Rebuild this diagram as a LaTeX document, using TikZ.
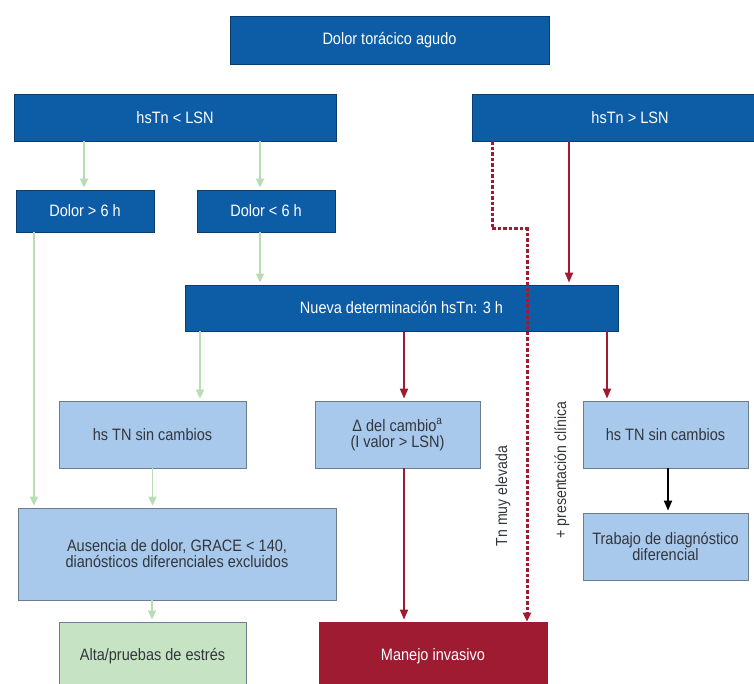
\documentclass[tikz,border=0pt]{standalone}
\usepackage{fontspec}
\setmainfont{Liberation Sans}[FakeStretch=0.88]
\usetikzlibrary{arrows.meta}

\definecolor{darkblue}{RGB}{12,92,166}
\definecolor{darkblueline}{RGB}{10,60,110}
\definecolor{lightblue}{RGB}{168,200,236}
\definecolor{lightgreen}{RGB}{198,228,196}
\definecolor{boxline}{RGB}{110,125,140}
\definecolor{darkred}{RGB}{158,27,50}
\definecolor{greenline}{RGB}{184,221,179}
\definecolor{textgray}{RGB}{50,55,60}

\tikzset{
  boxtext/.style={font=\fontsize{16.5}{16}\selectfont, align=center, inner sep=0pt},
  bluebox/.style={boxtext, draw=darkblueline, fill=darkblue, text=white, line width=0.8pt},
  lightbox/.style={boxtext, draw=boxline, fill=lightblue, text=textgray, line width=0.8pt},
  greenbox/.style={boxtext, draw=boxline, fill=lightgreen, text=textgray, line width=0.8pt},
  redbox/.style={boxtext, draw=darkred, fill=darkred, text=white, line width=0.8pt},
  greenarrow/.style={draw=greenline, line width=1.6pt, -{Triangle[length=9pt,width=8pt]}, shorten >=2pt},
  redarrow/.style={draw=darkred, line width=1.8pt, -{Triangle[length=10pt,width=8pt]}, shorten >=2pt},
  blackarrow/.style={draw=black, line width=1.8pt, -{Triangle[length=10pt,width=8pt]}, shorten >=2pt},
  reddash/.style={draw=darkred, line width=3pt, dash pattern=on 3.5pt off 2pt, -{Triangle[length=9pt,width=8pt]}},
  sidetext/.style={font=\fontsize{16}{16}\selectfont, text=textgray, rotate=90, inner sep=0pt}
}

\begin{document}
\begin{tikzpicture}[x=1pt,y=-1pt]
\useasboundingbox (0,0) rectangle (754,684);

% first row
\node (agudo) at (389.5,40)[bluebox,minimum width=319pt,minimum height=48pt]{Dolor torácico agudo};

% second row
\node (lsnlo) at (175,117.5)[bluebox,minimum width=322pt,minimum height=47pt]{hsTn < LSN};
\node (lsnhi) at (630,117.5)[bluebox,minimum width=316pt,minimum height=47pt]{hsTn > LSN};

\node (mas6) at (85,211)[bluebox,minimum width=138pt,minimum height=42pt]{Dolor > 6 h};
\node (menos6) at (266,211)[bluebox,minimum width=138pt,minimum height=42pt]{Dolor < 6 h};

\node (nueva) at (401.5,308)[bluebox,minimum width=433pt,minimum height=46pt]{Nueva determinación hsTn: 3 h};

% third row
\node (sinizq) at (152.5,434.5)[lightbox,minimum width=187pt,minimum height=67pt]{hs TN sin cambios};
\node (delta) at (397.5,434.5)[lightbox,minimum width=165pt,minimum height=67pt]{Δ del cambio\textsuperscript{a}\\(I valor > LSN)};
\node (sinder) at (665.5,434.5)[lightbox,minimum width=165pt,minimum height=67pt]{hs TN sin cambios};

\node (ausencia) at (177,554)[lightbox,minimum width=318pt,minimum height=92pt]{Ausencia de dolor, GRACE < 140,\\dianósticos diferenciales excluidos};
\node (trabajo) at (665.5,546.5)[lightbox,minimum width=165pt,minimum height=67pt]{Trabajo de diagnóstico\\diferencial};

% last row
\node (alta) at (152.5,656)[greenbox,minimum width=187pt,minimum height=68pt]{Alta/pruebas de estrés};
\node (manejo) at (433,656)[redbox,minimum width=228pt,minimum height=68pt]{Manejo invasivo};

% green arrows
\draw[greenarrow] ([xshift=-91pt]lsnlo.south) -- ([xshift=-91pt]lsnlo.south |- mas6.north);
\draw[greenarrow] ([xshift=85pt]lsnlo.south) -- ([xshift=85pt]lsnlo.south |- menos6.north);
\draw[greenarrow] ([xshift=-51pt]mas6.south) -- ([xshift=-51pt]mas6.south |- ausencia.north);
\draw[greenarrow] ([xshift=-6pt]menos6.south) -- ([xshift=-6pt]menos6.south |- nueva.north);
\draw[greenarrow] ([xshift=-201.5pt]nueva.south) -- ([xshift=-201.5pt]nueva.south |- sinizq.north);
\draw[greenarrow] (sinizq.south) -- (sinizq.south |- ausencia.north);
\draw[greenarrow] ([xshift=-25pt]ausencia.south) -- ([xshift=-25pt]ausencia.south |- alta.north);

% red arrows
\draw[redarrow] ([xshift=-61pt]lsnhi.south) -- ([xshift=-61pt]lsnhi.south |- nueva.north);
\draw[redarrow] ([xshift=2.5pt]nueva.south) -- ([xshift=2.5pt]nueva.south |- delta.north);
\draw[redarrow] ([xshift=205.5pt]nueva.south) -- ([xshift=205.5pt]nueva.south |- sinder.north);
\draw[redarrow] ([xshift=6.5pt]delta.south) -- ([xshift=6.5pt]delta.south |- manejo.north);
\coordinate (quiebre) at (492,229);
\draw[reddash] ([xshift=-138pt]lsnhi.south) -- (quiebre) -- ++(35,0) -- ([xshift=94pt]manejo.north);

% black arrow
\draw[blackarrow] ([xshift=2.5pt]sinder.south) -- ([xshift=2.5pt]sinder.south |- trabajo.north);

% labels along the dashed line
\node (muy) at (503,496)[sidetext]{Tn muy elevada};
\node (clinica) at (562,470)[sidetext]{+ presentación clínica};
\end{tikzpicture}
\end{document}
